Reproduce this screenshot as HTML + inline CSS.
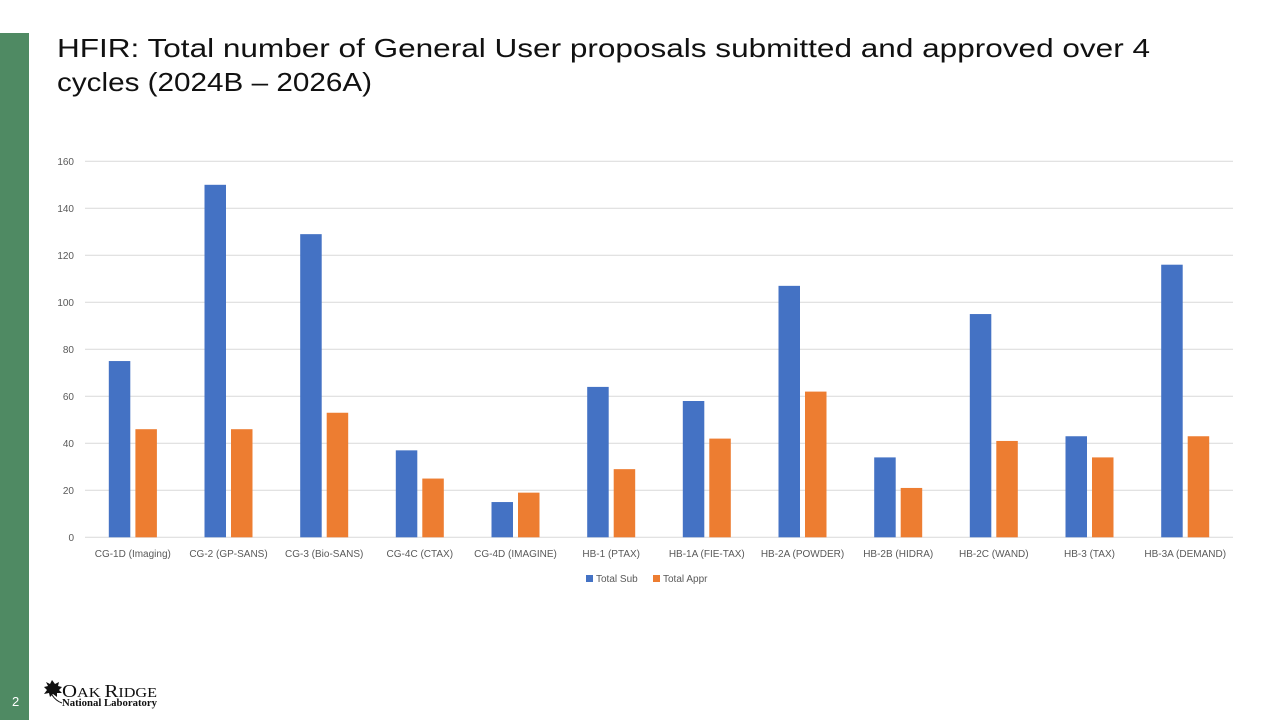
<!DOCTYPE html>
<html>
<head>
<meta charset="utf-8">
<style>
  html, body { margin:0; padding:0; background:#ffffff; }
  body { width:1280px; height:720px; overflow:hidden; }
  svg { display:block; }
</style>
</head>
<body>
<svg width="1280" height="720" viewBox="0 0 1280 720" xmlns="http://www.w3.org/2000/svg">
  <rect x="0" y="0" width="1280" height="720" fill="#ffffff"/>
  <!-- green side bar -->
  <rect x="0" y="33" width="29" height="687" fill="#4f8a63"/>
  <text x="12" y="706" font-family="Liberation Sans, sans-serif" font-size="13" fill="#ffffff">2</text>

  <!-- title -->
  <g font-family="Liberation Sans, sans-serif" font-size="26" fill="#111111">
    <text x="57" y="57" textLength="1093" lengthAdjust="spacingAndGlyphs">HFIR: Total number of General User proposals submitted and approved over 4</text>
    <text x="57" y="91" textLength="315" lengthAdjust="spacingAndGlyphs">cycles (2024B – 2026A)</text>
  </g>

  <!-- gridlines -->
  <g stroke="#d9d9d9" stroke-width="1">
    <line x1="85" x2="1233" y1="537.3" y2="537.3"/>
    <line x1="85" x2="1233" y1="490.3" y2="490.3"/>
    <line x1="85" x2="1233" y1="443.3" y2="443.3"/>
    <line x1="85" x2="1233" y1="396.3" y2="396.3"/>
    <line x1="85" x2="1233" y1="349.3" y2="349.3"/>
    <line x1="85" x2="1233" y1="302.3" y2="302.3"/>
    <line x1="85" x2="1233" y1="255.3" y2="255.3"/>
    <line x1="85" x2="1233" y1="208.3" y2="208.3"/>
    <line x1="85" x2="1233" y1="161.3" y2="161.3"/>
  </g>

  <!-- y labels -->
  <g font-family="Liberation Sans, sans-serif" font-size="10" fill="#595959" text-anchor="end">
    <text x="74" y="541">0</text>
    <text x="74" y="494">20</text>
    <text x="74" y="447">40</text>
    <text x="74" y="400">60</text>
    <text x="74" y="353">80</text>
    <text x="74" y="306">100</text>
    <text x="74" y="259">120</text>
    <text x="74" y="212">140</text>
    <text x="74" y="165">160</text>
  </g>

  <!-- blue bars -->
  <g fill="#4472c4">
    <rect x="108.8" y="361.05" width="21.5" height="176.25"/>
    <rect x="204.5" y="184.8" width="21.5" height="352.5"/>
    <rect x="300.2" y="234.15" width="21.5" height="303.15"/>
    <rect x="395.8" y="450.35" width="21.5" height="86.95"/>
    <rect x="491.5" y="502.05" width="21.5" height="35.25"/>
    <rect x="587.2" y="386.9" width="21.5" height="150.4"/>
    <rect x="682.8" y="401.0" width="21.5" height="136.3"/>
    <rect x="778.5" y="285.85" width="21.5" height="251.45"/>
    <rect x="874.2" y="457.4" width="21.5" height="79.9"/>
    <rect x="969.8" y="314.05" width="21.5" height="223.25"/>
    <rect x="1065.5" y="436.25" width="21.5" height="101.05"/>
    <rect x="1161.2" y="264.7" width="21.5" height="272.6"/>
  </g>
  <!-- orange bars -->
  <g fill="#ed7d31">
    <rect x="135.4" y="429.2" width="21.5" height="108.1"/>
    <rect x="231.0" y="429.2" width="21.5" height="108.1"/>
    <rect x="326.7" y="412.75" width="21.5" height="124.55"/>
    <rect x="422.3" y="478.55" width="21.5" height="58.75"/>
    <rect x="518.0" y="492.65" width="21.5" height="44.65"/>
    <rect x="613.7" y="469.15" width="21.5" height="68.15"/>
    <rect x="709.3" y="438.6" width="21.5" height="98.7"/>
    <rect x="805.0" y="391.6" width="21.5" height="145.7"/>
    <rect x="900.7" y="487.95" width="21.5" height="49.35"/>
    <rect x="996.3" y="440.95" width="21.5" height="96.35"/>
    <rect x="1092.0" y="457.4" width="21.5" height="79.9"/>
    <rect x="1187.7" y="436.25" width="21.5" height="101.05"/>
  </g>

  <!-- category labels -->
  <g font-family="Liberation Sans, sans-serif" font-size="10" fill="#595959" text-anchor="middle">
    <text x="132.8" y="557">CG-1D (Imaging)</text>
    <text x="228.5" y="557">CG-2 (GP-SANS)</text>
    <text x="324.2" y="557">CG-3 (Bio-SANS)</text>
    <text x="419.8" y="557">CG-4C (CTAX)</text>
    <text x="515.5" y="557">CG-4D (IMAGINE)</text>
    <text x="611.2" y="557">HB-1 (PTAX)</text>
    <text x="706.8" y="557">HB-1A (FIE-TAX)</text>
    <text x="802.5" y="557">HB-2A (POWDER)</text>
    <text x="898.2" y="557">HB-2B (HIDRA)</text>
    <text x="993.8" y="557">HB-2C (WAND)</text>
    <text x="1089.5" y="557">HB-3 (TAX)</text>
    <text x="1185.2" y="557">HB-3A (DEMAND)</text>
  </g>

  <!-- legend -->
  <rect x="586" y="575" width="7" height="7" fill="#4472c4"/>
  <text x="596" y="582" font-family="Liberation Sans, sans-serif" font-size="10" fill="#595959">Total Sub</text>
  <rect x="653" y="575" width="7" height="7" fill="#ed7d31"/>
  <text x="663" y="582" font-family="Liberation Sans, sans-serif" font-size="10" fill="#595959">Total Appr</text>

  <!-- logo -->
  <path d="M52 680 L55 684 L59 682 L58 686 L62 687 L59 690 L62 693 L57 693 L57 697 L53 694 L50 697 L49 693 L44 694 L47 690 L44 687 L48 686 L46 682 L50 684 Z" fill="#111111"/>
  <path d="M52 695 Q56 701 62 703" stroke="#111111" stroke-width="1" fill="none"/>
  <text x="62" y="697" font-family="Liberation Serif, serif" fill="#111111" textLength="95" lengthAdjust="spacingAndGlyphs"><tspan font-size="18">O</tspan><tspan font-size="14">AK </tspan><tspan font-size="18">R</tspan><tspan font-size="14">IDGE</tspan></text>
  <text x="62" y="706" font-family="Liberation Serif, serif" font-size="10" font-weight="bold" fill="#111111" textLength="95" lengthAdjust="spacingAndGlyphs">National Laboratory</text>
</svg>
</body>
</html>
